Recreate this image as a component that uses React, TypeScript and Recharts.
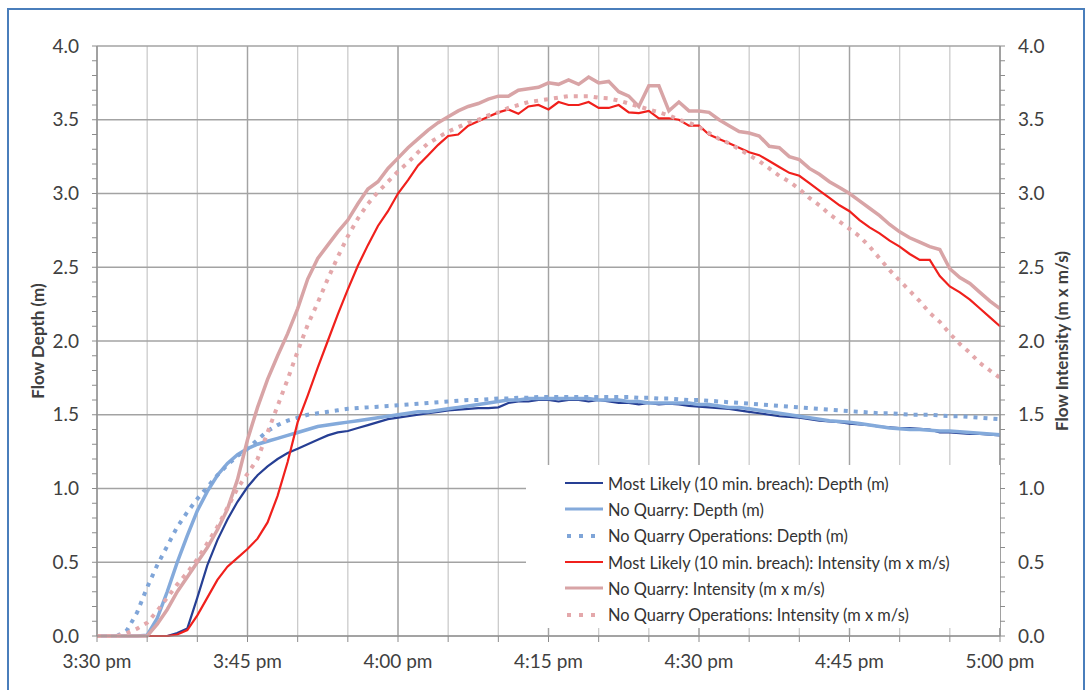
import { LineChart, Line, XAxis, YAxis, CartesianGrid, Legend } from "recharts";

// minutes after 3:30 pm, one reading per minute
const MINUTES = Array.from({ length: 91 }, (_, i) => i);
const X_TICKS = Array.from({ length: 19 }, (_, i) => i * 5);
const X_MAJOR = [0, 15, 30, 45, 60, 75, 90];
const X_LABELS = ["3:30 pm", "3:45 pm", "4:00 pm", "4:15 pm", "4:30 pm", "4:45 pm", "5:00 pm"];
const Y_TICKS = Array.from({ length: 41 }, (_, i) => i / 10);
const Y_MAJOR = [0, 0.5, 1, 1.5, 2, 2.5, 3, 3.5, 4];

const mostLikelyDepth = [
  0, 0, 0, 0, 0, 0, 0, 0, 0.02, 0.05,
  0.26, 0.48, 0.65, 0.79, 0.91, 1.01, 1.09, 1.15, 1.2, 1.24,
  1.27, 1.3, 1.33, 1.36, 1.38, 1.39, 1.41, 1.43, 1.45, 1.47,
  1.48, 1.49, 1.5, 1.51, 1.52, 1.53, 1.535, 1.54, 1.545, 1.545,
  1.55, 1.58, 1.59, 1.59, 1.6, 1.6, 1.59, 1.6, 1.6, 1.59,
  1.6, 1.59, 1.58, 1.58, 1.57, 1.58, 1.57, 1.575, 1.57, 1.56,
  1.555, 1.55, 1.545, 1.54, 1.53, 1.52, 1.51, 1.5, 1.49, 1.485,
  1.48, 1.47, 1.46, 1.455, 1.45, 1.44, 1.435, 1.43, 1.42, 1.415,
  1.41, 1.41, 1.405, 1.4, 1.38, 1.38, 1.375, 1.37, 1.37, 1.365, 1.36,
];
const noQuarryDepth = [
  0, 0, 0, 0, 0, 0.005, 0.12, 0.3, 0.5, 0.68,
  0.85, 0.98, 1.09, 1.17, 1.23, 1.27, 1.3, 1.32, 1.34, 1.36,
  1.38, 1.4, 1.42, 1.43, 1.44, 1.45, 1.46, 1.47, 1.48, 1.49,
  1.5, 1.51, 1.52, 1.52, 1.53, 1.54, 1.55, 1.56, 1.57, 1.58,
  1.59, 1.6, 1.6, 1.61, 1.61, 1.61, 1.61, 1.61, 1.61, 1.61,
  1.6, 1.6, 1.6, 1.59, 1.59, 1.58, 1.58, 1.58, 1.58, 1.58,
  1.57, 1.57, 1.56, 1.55, 1.55, 1.54, 1.53, 1.52, 1.51, 1.5,
  1.49, 1.48, 1.47, 1.46, 1.455, 1.45, 1.44, 1.43, 1.42, 1.41,
  1.405, 1.4, 1.4, 1.395, 1.39, 1.39, 1.385, 1.38, 1.375, 1.37, 1.365,
];
const noQuarryOpsDepth = [
  0, 0, 0, 0.04, 0.16, 0.33, 0.48, 0.61, 0.74, 0.84,
  0.93, 1.01, 1.09, 1.16, 1.22, 1.27, 1.33, 1.39, 1.43, 1.46,
  1.48, 1.5, 1.51, 1.52, 1.53, 1.54, 1.545, 1.55, 1.555, 1.56,
  1.565, 1.57, 1.575, 1.58, 1.585, 1.59, 1.595, 1.6, 1.6, 1.605,
  1.61, 1.61, 1.615, 1.615, 1.62, 1.62, 1.62, 1.62, 1.62, 1.62,
  1.62, 1.62, 1.62, 1.62, 1.615, 1.615, 1.61, 1.61, 1.605, 1.6,
  1.6, 1.595, 1.59, 1.585, 1.58, 1.575, 1.57, 1.565, 1.56, 1.555,
  1.55, 1.545, 1.54, 1.535, 1.53, 1.525, 1.52, 1.515, 1.51, 1.51,
  1.505, 1.5, 1.5, 1.5, 1.495, 1.49, 1.49, 1.485, 1.48, 1.475, 1.47,
];
const mostLikelyIntensity = [
  0, 0, 0, 0, 0, 0, 0, 0, 0.01, 0.04,
  0.14, 0.26, 0.38, 0.47, 0.53, 0.59, 0.66, 0.77, 0.95, 1.18,
  1.45, 1.63, 1.82, 2.0, 2.18, 2.35, 2.51, 2.65, 2.78, 2.88,
  3.0, 3.09, 3.19, 3.26, 3.33, 3.39, 3.4, 3.46, 3.49, 3.52,
  3.55, 3.57, 3.54, 3.59, 3.6, 3.57, 3.62, 3.6, 3.6, 3.62,
  3.58, 3.58, 3.6, 3.55, 3.545, 3.56, 3.51, 3.51, 3.5, 3.46,
  3.46, 3.4, 3.37, 3.34, 3.31, 3.28, 3.26, 3.22, 3.18, 3.14,
  3.12, 3.07, 3.02, 2.97, 2.92, 2.88, 2.82, 2.77, 2.73, 2.68,
  2.64, 2.59, 2.55, 2.55, 2.44, 2.37, 2.33, 2.28, 2.22, 2.16, 2.1,
];
const noQuarryIntensity = [
  0, 0, 0, 0, 0, 0, 0.08, 0.18, 0.3, 0.4,
  0.5, 0.6, 0.72, 0.86, 1.06, 1.33, 1.55, 1.74, 1.9, 2.05,
  2.22, 2.42, 2.56, 2.65, 2.74, 2.82, 2.93, 3.03, 3.08, 3.17,
  3.24, 3.31, 3.37, 3.43, 3.48, 3.52, 3.56, 3.59, 3.61, 3.64,
  3.66, 3.66, 3.7, 3.71, 3.72, 3.75, 3.74, 3.77, 3.74, 3.79,
  3.75, 3.76, 3.69, 3.66, 3.59, 3.73, 3.73, 3.56, 3.62, 3.56,
  3.56, 3.55, 3.5, 3.46, 3.42, 3.41, 3.39, 3.32, 3.31, 3.25,
  3.23, 3.17, 3.13, 3.08, 3.04, 3.0, 2.95, 2.9, 2.85, 2.79,
  2.74, 2.7, 2.67, 2.64, 2.62, 2.49, 2.43, 2.39, 2.33, 2.27, 2.22,
];
const noQuarryOpsIntensity = [
  0, 0, 0, 0.02, 0.05, 0.09, 0.17, 0.26, 0.35, 0.43,
  0.52, 0.63, 0.74, 0.87, 1.0, 1.1, 1.2, 1.38, 1.56, 1.74,
  1.93, 2.11, 2.26, 2.42, 2.57, 2.71, 2.83, 2.93, 3.01, 3.08,
  3.15, 3.21, 3.28, 3.34, 3.38, 3.42, 3.45, 3.48, 3.5, 3.53,
  3.55, 3.58, 3.6, 3.62, 3.63, 3.64, 3.65, 3.66, 3.66, 3.66,
  3.65, 3.645, 3.63, 3.61, 3.59, 3.57, 3.55, 3.53, 3.5, 3.48,
  3.45, 3.41, 3.37, 3.34, 3.3, 3.26, 3.22, 3.17, 3.12, 3.08,
  3.03, 2.97, 2.92, 2.86, 2.81, 2.76, 2.71, 2.64, 2.56, 2.48,
  2.41, 2.34, 2.27, 2.19, 2.13, 2.05, 1.98, 1.92, 1.85, 1.8, 1.75,
];

const SERIES = [
  { key: "mlDepth", name: "Most Likely (10 min. breach): Depth (m)", axis: "depth", color: "#263f94", width: 2.2, dotted: false, values: mostLikelyDepth },
  { key: "nqDepth", name: "No Quarry: Depth (m)", axis: "depth", color: "#84aadb", width: 3.5, dotted: false, values: noQuarryDepth },
  { key: "nqoDepth", name: "No Quarry Operations: Depth (m)", axis: "depth", color: "#7fa5d8", width: 4, dotted: true, values: noQuarryOpsDepth },
  { key: "mlInt", name: "Most Likely (10 min. breach): Intensity (m x m/s)", axis: "intensity", color: "#f0201c", width: 2.2, dotted: false, values: mostLikelyIntensity },
  { key: "nqInt", name: "No Quarry: Intensity (m x m/s)", axis: "intensity", color: "#d8a4a6", width: 3.5, dotted: false, values: noQuarryIntensity },
  { key: "nqoInt", name: "No Quarry Operations: Intensity (m x m/s)", axis: "intensity", color: "#e4a8ab", width: 4, dotted: true, values: noQuarryOpsIntensity },
];

const data = MINUTES.map((m, i) => {
  const row: Record<string, number> = { m };
  SERIES.forEach((s) => {
    row[s.key] = s.values[i];
  });
  return row;
});

const FONT = "Lato, 'Open Sans', sans-serif";
const TEXT = "#404040";
const AXIS = "#8c8c8c";

const fmtX = (v: number) => {
  const idx = X_MAJOR.indexOf(v);
  return idx >= 0 ? X_LABELS[idx] : "";
};
const fmtY = (v: number) => (Y_MAJOR.includes(v) ? v.toFixed(1) : "");

const AxisTitle = (props: any) => {
  const vb = props.viewBox || { x: 0, y: 0, width: 0, height: 0 };
  const cx = vb.x + vb.width / 2 + props.shift;
  const cy = vb.y + vb.height / 2;
  return (
    <text
      x={cx}
      y={cy}
      transform={`rotate(-90 ${cx} ${cy})`}
      textAnchor="middle"
      dominantBaseline="central"
      fill={TEXT}
      fontSize={17}
      fontWeight="bold"
      fontFamily={FONT}
    >
      {props.title}
    </text>
  );
};

const ChartLegend = () => (
  <div style={{ paddingTop: 5, fontFamily: FONT, fontSize: 16.4, color: "#333" }}>
    {SERIES.map((s) => (
      <div key={s.key} style={{ display: "flex", alignItems: "center", height: 26.3, paddingLeft: 39 }}>
        <svg width={38} height={8} style={{ flexShrink: 0 }}>
          <line
            x1={s.dotted ? 2 : 0}
            y1={4}
            x2={38}
            y2={4}
            stroke={s.color}
            strokeWidth={s.dotted ? 4 : Math.min(s.width, 3)}
            strokeDasharray={s.dotted ? "4 8" : undefined}
          />
        </svg>
        <span style={{ marginLeft: 5, whiteSpace: "nowrap" }}>{s.name}</span>
      </div>
    ))}
  </div>
);

export default function App() {
  return (
    <div style={{ position: "absolute", left: 0, top: 0, width: 1086, height: 690, overflow: "hidden", background: "#fff" }}>
      <div
        style={{
          position: "absolute",
          left: 7,
          top: 8,
          width: 1074,
          height: 720,
          border: "2px solid #4a7ebb",
        }}
      />
      <div style={{ position: "absolute", left: 0, top: 0 }}>
        <LineChart
          width={1086}
          height={690}
          data={data}
          margin={{ top: 46, right: 0, bottom: 24, left: 0 }}
          style={{ fontFamily: FONT }}
        >
          <CartesianGrid yAxisId="depth" horizontal={false} verticalValues={X_TICKS} stroke="#cbcbcb" strokeWidth={1.3} />
          <CartesianGrid yAxisId="depth" horizontalValues={Y_MAJOR} verticalValues={X_MAJOR} stroke="#a3a3a3" strokeWidth={1.3} />
          <XAxis
            dataKey="m"
            type="number"
            domain={[0, 90]}
            ticks={X_TICKS}
            interval={0}
            tickFormatter={fmtX}
            height={30}
            tickSize={6}
            tickMargin={13}
            stroke={AXIS}
            tick={{ fill: TEXT, fontSize: 19 }}
          />
          <YAxis
            yAxisId="depth"
            domain={[0, 4]}
            ticks={Y_TICKS}
            interval={0}
            tickFormatter={fmtY}
            width={97}
            tickSize={5}
            tickMargin={13}
            stroke={AXIS}
            tick={{ fill: TEXT, fontSize: 19 }}
            label={(p: any) => <AxisTitle {...p} title="Flow Depth (m)" shift={-11} />}
          />
          <YAxis
            yAxisId="intensity"
            orientation="right"
            domain={[0, 4]}
            ticks={Y_TICKS}
            interval={0}
            tickFormatter={fmtY}
            width={86}
            tickSize={5}
            tickMargin={13}
            stroke={AXIS}
            tick={{ fill: TEXT, fontSize: 19 }}
            label={(p: any) => <AxisTitle {...p} title="Flow Intensity (m x m/s)" shift={18} />}
          />
          {SERIES.map((s) => (
            <Line
              key={s.key}
              yAxisId={s.axis}
              dataKey={s.key}
              name={s.name}
              type="linear"
              stroke={s.color}
              strokeWidth={s.width}
              strokeDasharray={s.dotted ? "4 6" : undefined}
              dot={false}
              activeDot={false}
              isAnimationActive={false}
            />
          ))}
          <Legend
            layout="horizontal"
            align="center"
            verticalAlign="middle"
            content={() => <ChartLegend />}
            wrapperStyle={{ left: 526, top: 465, width: 474, height: 163, background: "#fff" }}
          />
        </LineChart>
      </div>
    </div>
  );
}
